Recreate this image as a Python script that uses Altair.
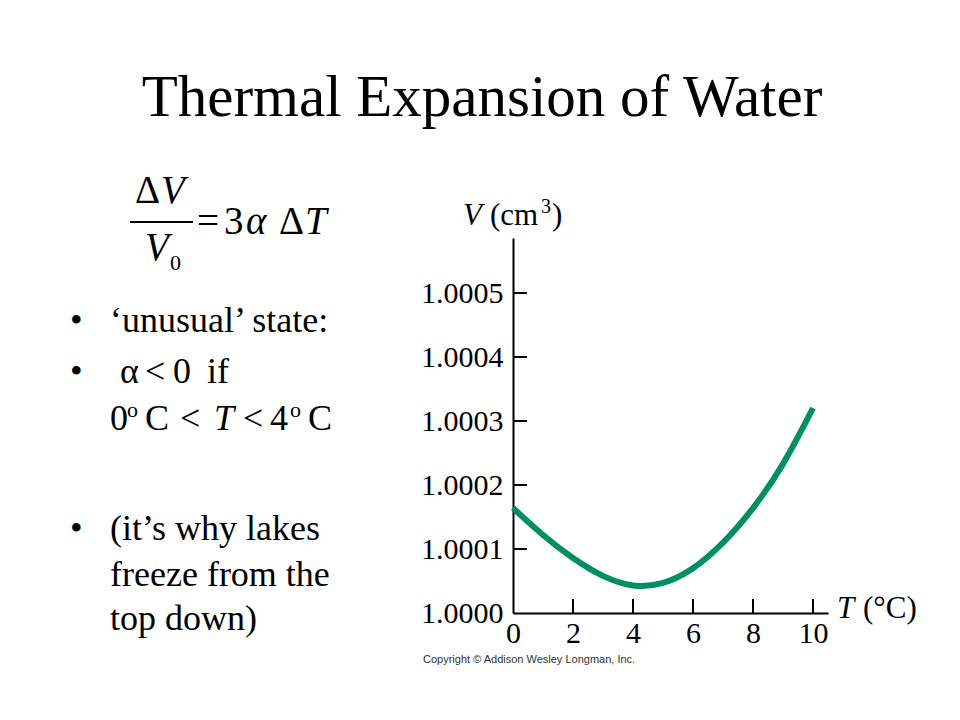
import altair as alt
import pandas as pd

# ---- data ----
temps_c = [0, 1, 2, 3, 4, 5, 6, 7, 8, 9, 10]
volume_cm3 = [1.000164, 1.000122, 1.000086, 1.000058, 1.000043, 1.000047,
              1.000070, 1.000110, 1.000164, 1.000233, 1.000320]
x_label_values = [0, 2, 4, 6, 8, 10]
x_tick_values = [2, 4, 6, 8, 10]
y_label_values = [1.0000, 1.0001, 1.0002, 1.0003, 1.0004, 1.0005]
y_tick_values = [1.0001, 1.0002, 1.0003, 1.0004, 1.0005]

# ---- layout (page pixels) ----
PX0, PY0 = 513, 238          # plot origin on page
W, H = 315, 375              # plot area
SERIF = "Liberation Serif"
SANS = "Liberation Sans"
GREEN = "#008f63"

x_scale = alt.Scale(domain=[0, 10.5], nice=False, zero=False)
y_scale = alt.Scale(domain=[1.0, 1.000586], nice=False, zero=False)

x_axis = alt.Axis(values=x_label_values, title=None, ticks=False, grid=False,
                  domainColor="black", domainWidth=2, labelFont=SERIF,
                  labelFontSize=30, labelColor="black", labelPadding=5,
                  labelFlush=False, labelOverlap=False)
y_axis = alt.Axis(values=y_label_values, title=None, ticks=False, grid=False,
                  format=".4f", domainColor="black", domainWidth=2,
                  labelFont=SERIF, labelFontSize=30, labelColor="black",
                  labelPadding=10, labelFlush=False, labelOverlap=False)

curve = alt.Chart(pd.DataFrame({"T": temps_c, "V": volume_cm3})).mark_line(
    color=GREEN, strokeWidth=6, interpolate="natural", strokeCap="butt"
).encode(
    x=alt.X("T:Q", scale=x_scale, axis=x_axis),
    y=alt.Y("V:Q", scale=y_scale, axis=y_axis),
)

x_ticks = alt.Chart(pd.DataFrame({"T": x_tick_values})).mark_rule(
    color="black", strokeWidth=2
).encode(
    x=alt.X("T:Q", scale=x_scale, axis=x_axis),
    y=alt.value(H), y2=alt.value(H - 14),
)

y_ticks = alt.Chart(pd.DataFrame({"V": y_tick_values})).mark_rule(
    color="black", strokeWidth=2
).encode(
    y=alt.Y("V:Q", scale=y_scale, axis=y_axis),
    x=alt.value(0), x2=alt.value(14),
)


def txt(s, x, y, size, style="normal", font=SERIF, align="left", color="black"):
    return alt.Chart(pd.DataFrame({"s": [s]})).mark_text(
        font=font, fontSize=size, fontStyle=style, align=align,
        baseline="alphabetic", color=color
    ).encode(x=alt.value(x - PX0), y=alt.value(y - PY0), text=alt.Text("s:N"))


def hline(x1, x2, y, width=2):
    return alt.Chart(pd.DataFrame({"k": [0]})).mark_rule(
        color="black", strokeWidth=width
    ).encode(x=alt.value(x1 - PX0), x2=alt.value(x2 - PX0), y=alt.value(y - PY0))


texts = [
    # title
    txt("Thermal Expansion of Water", 482, 116, 59, align="center"),
    # formula
    txt("Δ", 135, 203, 39),
    txt("V", 161, 203, 39, "italic"),
    hline(130, 193, 222),
    txt("V", 145, 260, 39, "italic"),
    txt("0", 170, 270, 22),
    txt("=", 197, 234, 39),
    txt("3", 224, 234, 39),
    txt("α", 246, 234, 39, "italic"),
    txt("Δ", 279, 234, 39),
    txt("T", 305, 234, 39, "italic"),
    # bullets
    txt("•", 70, 332, 36),
    txt("‘unusual’ state:", 110, 332, 36),
    txt("•", 70, 383, 36),
    txt("α", 120, 383, 36),
    txt("<", 145, 383, 36),
    txt("0", 173, 383, 36),
    txt("if", 207, 383, 36),
    txt("0", 110, 430, 36),
    txt("o", 127, 417, 22),
    txt("C", 145, 430, 36),
    txt("<", 180, 430, 36),
    txt("T", 214, 430, 36, "italic"),
    txt("<", 243, 430, 36),
    txt("4", 270, 430, 36),
    txt("o", 290, 417, 22),
    txt("C", 308, 430, 36),
    txt("•", 70, 540, 36),
    txt("(it’s why lakes", 110, 540, 36),
    txt("freeze from the", 110, 586, 36),
    txt("top down)", 110, 630, 36),
    # axis titles
    txt("V", 463, 225, 31, "italic"),
    txt("(cm", 490, 225, 31),
    txt("3", 541, 213, 20),
    txt(")", 552, 225, 31),
    txt("T", 837, 618, 31, "italic"),
    txt("(°C)", 863, 618, 31),
    # copyright
    txt("Copyright © Addison Wesley Longman, Inc.", 423, 663, 11, font=SANS, color="#333333"),
]

chart = alt.layer(curve, x_ticks, y_ticks, *texts).properties(
    width=W, height=H,
    padding={"left": PX0 - 8, "top": PY0 - 8, "right": 116, "bottom": 90},
    autosize=alt.AutoSizeParams(type="none"),
    background="white",
).configure_view(stroke=None)

chart.save("out.html", embed_options={"renderer": "svg", "actions": False})
